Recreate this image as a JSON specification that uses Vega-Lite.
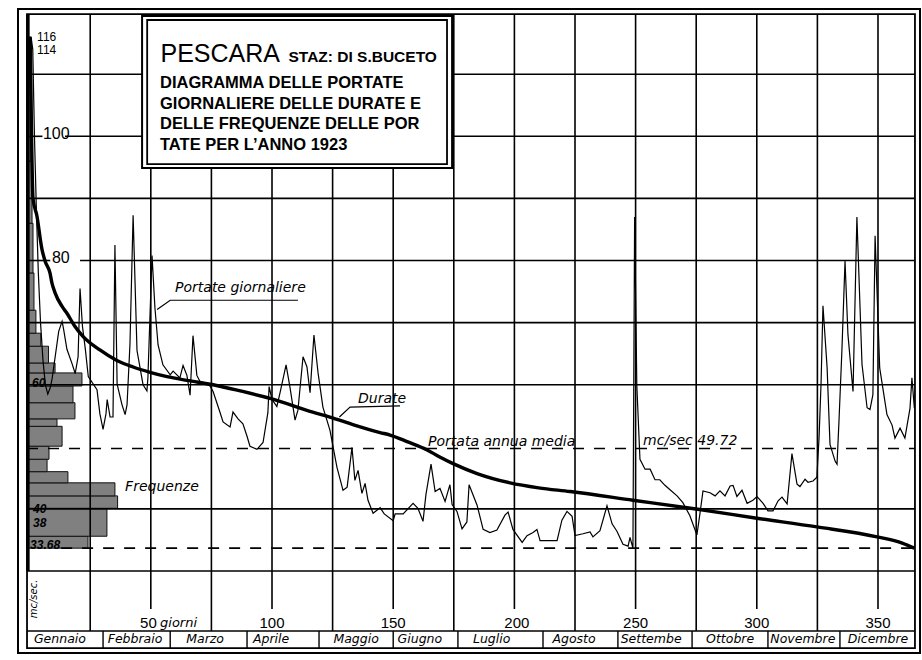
{
"$schema": "https://vega.github.io/schema/vega-lite/v6.json",
"width": 902, "height": 644,
"autosize": {"type": "none"},
"padding": {"left": 18, "top": 9, "right": 2, "bottom": 7},
"background": "white",
"config": {"view": {"stroke": "black", "strokeWidth": 2}},
"datasets": {
"daily": [
{"day":0,"q":112},{"day":0.6,"q":116},{"day":1.3,"q":114},{"day":2,"q":100},{"day":2.8,"q":88},{"day":3.6,"q":78},{"day":4.5,"q":70},{"day":5.5,"q":64},{"day":6.5,"q":60},{"day":7.5,"q":58.5},{"day":8.5,"q":59.5},{"day":9.3,"q":61},
{"day":12,"q":68.6},{"day":13.4,"q":70.2},{"day":14,"q":69},{"day":15.4,"q":65.7},{"day":17.5,"q":63.4},{"day":18.8,"q":61.8},{"day":20,"q":64.5},{"day":20.8,"q":75.5},{"day":21.8,"q":69.4},{"day":23,"q":65.7},{"day":24.2,"q":61.3},{"day":27.8,"q":59.2},{"day":29,"q":55.3},{"day":30.3,"q":52.8},{"day":31.5,"q":55.3},{"day":32,"q":57.6},{"day":33.2,"q":54.8},{"day":34.4,"q":54.8},{"day":35.2,"q":82.5},{"day":36.1,"q":60.1},{"day":38.1,"q":56.8},{"day":39.4,"q":55.2},{"day":40.2,"q":56.8},{"day":41.4,"q":66.5},{"day":42.7,"q":87.3},{"day":44.3,"q":65.5},{"day":46.8,"q":60},{"day":48.4,"q":59},{"day":48.8,"q":61.1},{"day":50.5,"q":80.8},{"day":51.7,"q":72.4},{"day":53,"q":66.4},{"day":55,"q":63.2},{"day":58,"q":61.6},{"day":59.2,"q":62.2},{"day":62,"q":61.1},{"day":63.3,"q":63.1},{"day":64.9,"q":61.5},{"day":66.2,"q":58.3},{"day":67.4,"q":67.9},{"day":69,"q":61.5},{"day":70.3,"q":60.5},
{"day":74.4,"q":59.8},{"day":75.7,"q":58.9},{"day":78.5,"q":55.6},{"day":79.8,"q":54},{"day":82.7,"q":53.2},{"day":83.9,"q":55.6},{"day":86,"q":54.5},{"day":88,"q":53.7},{"day":89.7,"q":51.7},{"day":90.9,"q":50.1},{"day":93.8,"q":49.6},{"day":96.3,"q":50.7},{"day":98.3,"q":55.5},{"day":98.8,"q":59.7},{"day":100,"q":57.6},{"day":102,"q":56.5},{"day":103.3,"q":58.7},{"day":105.8,"q":63.2},{"day":107.4,"q":59.6},{"day":109.5,"q":54.3},{"day":110.7,"q":55.9},{"day":112.8,"q":64.5},{"day":114.4,"q":62.9},{"day":115.7,"q":58.7},{"day":117.3,"q":68},{"day":119,"q":61.9},{"day":121,"q":56.4},{"day":123.9,"q":52.7},{"day":126.8,"q":46.7},{"day":129.3,"q":43},{"day":131,"q":43.5},{"day":133,"q":49.9},{"day":134.2,"q":44.6},{"day":135.5,"q":46.2},{"day":137.1,"q":42.5},{"day":138.4,"q":44.1},{"day":139.6,"q":41.4},{"day":141.7,"q":39.3},{"day":144.6,"q":40.2},{"day":146.3,"q":39.2},{"day":150,"q":38.1},{"day":150.8,"q":39.2},{"day":154.1,"q":39.2},{"day":158.2,"q":40.9},{"day":160.2,"q":40.1},{"day":162.3,"q":38},{"day":163.5,"q":42.3},{"day":165.6,"q":47.2},{"day":167.3,"q":42.8},{"day":169.3,"q":43.3},{"day":171.4,"q":41.2},{"day":173.4,"q":43.9},{"day":174.3,"q":40.7},{"day":176.3,"q":39.6},{"day":178.4,"q":36.8},{"day":180.4,"q":37.9},{"day":181.3,"q":43.9},{"day":184.6,"q":40.6},{"day":187.1,"q":36.7},{"day":189.9,"q":36.2},{"day":192.8,"q":36.6},{"day":196.1,"q":39},{"day":197.4,"q":39.5},{"day":199.4,"q":36.7},{"day":203.2,"q":34.6},{"day":205.2,"q":35.7},{"day":207.7,"q":36.2},{"day":209.3,"q":36.7},{"day":210.6,"q":34.9},{"day":217.6,"q":34.9},{"day":219.6,"q":38.2},{"day":221.7,"q":39.6},{"day":223.8,"q":38.8},{"day":225,"q":35.7},{"day":228.3,"q":36},{"day":231.2,"q":36.3},{"day":232.4,"q":35.5},{"day":235.3,"q":36.5},{"day":238.2,"q":40.5},{"day":240.3,"q":37.6},{"day":242.3,"q":36.4},{"day":244.8,"q":34.3},{"day":246.9,"q":34},{"day":247.7,"q":35.4},{"day":248.9,"q":33.7},
{"day":249.6,"q":87},{"day":250.5,"q":59.9},{"day":251.8,"q":48},{"day":253.9,"q":46.4},{"day":256,"q":46.4},{"day":258,"q":44.7},{"day":260,"q":44.7},{"day":262.1,"q":43.8},{"day":264.2,"q":43.1},{"day":267.1,"q":42.1},{"day":269.5,"q":41},{"day":272.4,"q":38.9},{"day":275.3,"q":35.8},{"day":276.6,"q":39.4},{"day":277.8,"q":42.9},{"day":280.7,"q":42.6},{"day":282.8,"q":42.1},{"day":284.8,"q":42.9},{"day":286.9,"q":42.1},{"day":289,"q":43.7},{"day":290.2,"q":43.8},{"day":291.8,"q":42},{"day":293.9,"q":43},{"day":296,"q":40.9},{"day":298.4,"q":41.4},{"day":300.1,"q":42},{"day":302.6,"q":40.9},{"day":304.6,"q":39.7},{"day":306.7,"q":39.7},{"day":308.8,"q":41.3},{"day":310.4,"q":41.9},{"day":312.5,"q":40.8},{"day":314.5,"q":48.9},{"day":316.6,"q":44},{"day":317.8,"q":43.6},{"day":319.9,"q":44.8},{"day":321.1,"q":44.3},{"day":323.2,"q":44.5},{"day":324.8,"q":45.1},{"day":325.7,"q":51.6},{"day":326.5,"q":60.1},{"day":327.3,"q":72.7},{"day":329,"q":62.8},{"day":330.2,"q":50.4},{"day":332.3,"q":47.7},{"day":333.1,"q":47.2},{"day":333.9,"q":54.1},{"day":335.1,"q":65.4},{"day":336.4,"q":79.9},{"day":337.6,"q":68.1},{"day":339.7,"q":58.9},{"day":341.3,"q":87},{"day":343.4,"q":63.3},{"day":345.5,"q":56.3},{"day":346.7,"q":56},{"day":347.9,"q":58.4},{"day":348.8,"q":84},{"day":350.7,"q":62.7},{"day":353.7,"q":55.2},{"day":355.8,"q":53.5},{"day":357,"q":51.4},{"day":359.1,"q":53},{"day":361.1,"q":51.4},{"day":363.2,"q":56.2},{"day":364,"q":61.1},{"day":365,"q":56.2}
],
"durate": [
{"day":0,"q":116},{"day":0.3,"q":114},{"day":0.8,"q":100},{"day":1.4,"q":90},{"day":3,"q":87.2},{"day":5.1,"q":81.8},{"day":6.4,"q":79.9},{"day":8.4,"q":78},{"day":9.2,"q":76.4},{"day":10.5,"q":74.8},{"day":13.4,"q":72.6},{"day":15.4,"q":71.5},{"day":18.5,"q":69.5},{"day":22,"q":67.8},{"day":29,"q":65.6},{"day":36,"q":63.9},{"day":42.7,"q":62.85},{"day":49.7,"q":62},{"day":56.7,"q":61.3},{"day":64.9,"q":60.7},{"day":75.7,"q":60},{"day":87,"q":59},{"day":99.2,"q":57.8},{"day":116.8,"q":55.6},{"day":123.9,"q":54.8},{"day":134,"q":53.5},{"day":144.6,"q":52.3},{"day":148.7,"q":51.9},{"day":156,"q":50.8},{"day":164,"q":49.5},{"day":169,"q":48.4},{"day":174.7,"q":47.3},{"day":184.6,"q":45.7},{"day":198.2,"q":44.2},{"day":210,"q":43.4},{"day":223,"q":42.8},{"day":248.9,"q":41.4},{"day":276.4,"q":39.9},{"day":300,"q":38.5},{"day":324.8,"q":37.1},{"day":349.6,"q":35.5},{"day":360,"q":34.5},{"day":365,"q":33.68}
],
"freq": [
{"lo":33.68,"hi":35.6,"days":24.1},{"lo":35.6,"hi":40.1,"days":31.9},{"lo":40.1,"hi":42.1,"days":36.3},{"lo":42.1,"hi":44.2,"days":35.2},{"lo":44.2,"hi":46.0,"days":15.8},{"lo":46.0,"hi":48.0,"days":7.2},{"lo":48.0,"hi":50.1,"days":8.0},{"lo":50.1,"hi":53.3,"days":13.4},{"lo":53.3,"hi":54.5,"days":11.3},{"lo":54.5,"hi":57.1,"days":18.7},{"lo":57.1,"hi":59.8,"days":17.9},{"lo":59.8,"hi":61.9,"days":21.6},{"lo":61.9,"hi":63.5,"days":10.5},{"lo":63.5,"hi":66.2,"days":7.8},{"lo":66.2,"hi":68.3,"days":4.6},{"lo":68.3,"hi":72,"days":2.6},{"lo":72,"hi":78,"days":1.8},{"lo":78,"hi":86,"days":1.4},{"lo":86,"hi":96,"days":1.0},{"lo":96,"hi":116,"days":0.6}
],
"hgrid": [
{"q":30,"a":-1.07,"b":365.25},{"q":40,"a":-1.07,"b":365.25},{"q":60,"a":-1.07,"b":365.25},{"q":70,"a":-1.07,"b":365.25},{"q":90,"a":-1.07,"b":365.25},{"q":110,"a":-1.07,"b":365.25},{"q":100,"a":-1.07,"b":5.3},{"q":100,"a":14.6,"b":365.25},{"q":80,"a":-1.07,"b":8.5},{"q":80,"a":20.8,"b":365.25},{"q":20.34,"a":-1.07,"b":365.25}
],
"months": [
{"name":"Gennaio","start":0,"mid":12.5},{"name":"Febbraio","start":30.3,"mid":43.5},{"name":"Marzo","start":58,"mid":72.4},{"name":"Aprile","start":89.7,"mid":99.6},{"name":"Maggio","start":119.4,"mid":134.7},{"name":"Giugno","start":150,"mid":161},{"name":"Luglio","start":176.7,"mid":190.6},{"name":"Agosto","start":211.8,"mid":224.6},{"name":"Settembe","start":242.7,"mid":256.4},{"name":"Ottobre","start":273.3,"mid":289},{"name":"Novembre","start":304.6,"mid":319},{"name":"Dicembre","start":334.3,"mid":350}
],
"leaders": [
{"g":"p","day":52.6,"q":72.1,"o":1},{"g":"p","day":58,"q":73.6,"o":2},{"g":"p","day":110.7,"q":73.6,"o":3},
{"g":"d","day":127.8,"q":54.8,"o":1},{"g":"d","day":132.2,"q":56.4,"o":2},{"g":"d","day":152.8,"q":56.6,"o":3}
]
},
"layer": [
{"data":{"name":"freq"},"mark":{"type":"rect","fill":"#808080","stroke":"#111","strokeWidth":1},
 "encoding":{"x":{"datum":-1.07,"type":"quantitative","scale":{"domain":[-4.79,367.33],"nice":false,"zero":false},"axis":null},"x2":{"field":"days","type":"quantitative"},
 "y":{"field":"lo","type":"quantitative","scale":{"domain":[16.8,120.5],"nice":false,"zero":false},"axis":null},"y2":{"field":"hi","type":"quantitative"}}},
{"data":{"name":"hgrid"},"mark":{"type":"rule","stroke":"black","strokeWidth":1.6},
 "encoding":{"x":{"field":"a","type":"quantitative","scale":{"domain":[-4.79,367.33],"nice":false,"zero":false},"axis":null},"x2":{"field":"b","type":"quantitative"},
 "y":{"field":"q","type":"quantitative","scale":{"domain":[16.8,120.5],"nice":false,"zero":false},"axis":null}}},
{"data":{"values":[{"d":25},{"d":75},{"d":125},{"d":175},{"d":225},{"d":275},{"d":325}]},"mark":{"type":"rule","stroke":"black","strokeWidth":1.6},
 "encoding":{"x":{"field":"d","type":"quantitative","scale":{"domain":[-4.79,367.33],"nice":false,"zero":false},"axis":null},
 "y":{"datum":119.69,"type":"quantitative","scale":{"domain":[16.8,120.5],"nice":false,"zero":false},"axis":null},"y2":{"datum":20.34,"type":"quantitative"}}},
{"data":{"values":[{"d":50},{"d":100},{"d":150},{"d":200},{"d":250},{"d":300},{"d":350}]},"mark":{"type":"rule","stroke":"black","strokeWidth":1.6},
 "encoding":{"x":{"field":"d","type":"quantitative","scale":{"domain":[-4.79,367.33],"nice":false,"zero":false},"axis":null},
 "y":{"datum":119.69,"type":"quantitative","scale":{"domain":[16.8,120.5],"nice":false,"zero":false},"axis":null},"y2":{"datum":23.88,"type":"quantitative"}}},
{"data":{"name":"months"},"transform":[{"filter":"datum.start > 0"}],"mark":{"type":"rule","stroke":"black","strokeWidth":1.4},
 "encoding":{"x":{"field":"start","type":"quantitative","scale":{"domain":[-4.79,367.33],"nice":false,"zero":false},"axis":null},
 "y":{"datum":20.34,"type":"quantitative","scale":{"domain":[16.8,120.5],"nice":false,"zero":false},"axis":null},"y2":{"datum":17.6,"type":"quantitative"}}},
{"data":{"name":"months"},"mark":{"type":"text","font":"DejaVu Sans","fontStyle":"italic","fontSize":12.5,"align":"center","baseline":"middle","color":"black"},
 "encoding":{"x":{"field":"mid","type":"quantitative","scale":{"domain":[-4.79,367.33],"nice":false,"zero":false},"axis":null},
 "y":{"datum":19.0,"type":"quantitative","scale":{"domain":[16.8,120.5],"nice":false,"zero":false},"axis":null},"text":{"field":"name","type":"nominal"}}},
{"data":{"values":[{"d":49,"t":"50"},{"d":100,"t":"100"},{"d":150,"t":"150"},{"d":201,"t":"200"},{"d":250,"t":"250"},{"d":300,"t":"300"},{"d":350,"t":"350"}]},
 "mark":{"type":"text","font":"Liberation Sans","fontSize":15,"align":"center","baseline":"middle","color":"black"},
 "encoding":{"x":{"field":"d","type":"quantitative","scale":{"domain":[-4.79,367.33],"nice":false,"zero":false},"axis":null},
 "y":{"datum":21.63,"type":"quantitative","scale":{"domain":[16.8,120.5],"nice":false,"zero":false},"axis":null},"text":{"field":"t","type":"nominal"}}},
{"data":{"values":[{"t":"giorni"}]},"mark":{"type":"text","font":"DejaVu Sans","fontStyle":"italic","fontSize":13,"align":"left","baseline":"middle","color":"black"},
 "encoding":{"x":{"datum":53.8,"type":"quantitative","scale":{"domain":[-4.79,367.33],"nice":false,"zero":false},"axis":null},
 "y":{"datum":21.63,"type":"quantitative","scale":{"domain":[16.8,120.5],"nice":false,"zero":false},"axis":null},"text":{"field":"t","type":"nominal"}}},
{"data":{"values":[{"t":"mc/sec."}]},"mark":{"type":"text","font":"DejaVu Sans","fontStyle":"italic","fontSize":10,"angle":270,"align":"center","baseline":"middle","color":"black"},
 "encoding":{"x":{"datum":1.8,"type":"quantitative","scale":{"domain":[-4.79,367.33],"nice":false,"zero":false},"axis":null},
 "y":{"datum":25.5,"type":"quantitative","scale":{"domain":[16.8,120.5],"nice":false,"zero":false},"axis":null},"text":{"field":"t","type":"nominal"}}},
{"data":{"values":[{"q":49.72,"a":-1.07},{"q":33.68,"a":13}]},"mark":{"type":"rule","stroke":"black","strokeWidth":1.6,"strokeDash":[11,10]},
 "encoding":{"x":{"field":"a","type":"quantitative","scale":{"domain":[-4.79,367.33],"nice":false,"zero":false},"axis":null},"x2":{"datum":365.25,"type":"quantitative"},
 "y":{"field":"q","type":"quantitative","scale":{"domain":[16.8,120.5],"nice":false,"zero":false},"axis":null}}},
{"data":{"name":"daily"},"mark":{"type":"line","stroke":"black","strokeWidth":1.2},
 "encoding":{"x":{"field":"day","type":"quantitative","scale":{"domain":[-4.79,367.33],"nice":false,"zero":false},"axis":null},
 "y":{"field":"q","type":"quantitative","scale":{"domain":[16.8,120.5],"nice":false,"zero":false},"axis":null}}},
{"data":{"name":"durate"},"mark":{"type":"line","stroke":"black","strokeWidth":3.4,"interpolate":"monotone"},
 "encoding":{"x":{"field":"day","type":"quantitative","scale":{"domain":[-4.79,367.33],"nice":false,"zero":false},"axis":null},
 "y":{"field":"q","type":"quantitative","scale":{"domain":[16.8,120.5],"nice":false,"zero":false},"axis":null}}},
{"data":{"name":"leaders"},"mark":{"type":"line","stroke":"black","strokeWidth":1.2},
 "encoding":{"x":{"field":"day","type":"quantitative","scale":{"domain":[-4.79,367.33],"nice":false,"zero":false},"axis":null},
 "y":{"field":"q","type":"quantitative","scale":{"domain":[16.8,120.5],"nice":false,"zero":false},"axis":null},"detail":{"field":"g","type":"nominal"},"order":{"field":"o","type":"quantitative"}}},
{"data":{"values":[{"t":"Portate giornaliere","d":60,"q":74.9},{"t":"Durate","d":135.5,"q":57.1},{"t":"Portata annua media","d":164.4,"q":50.2},{"t":"mc/sec 49.72","d":253.1,"q":50.3},{"t":"Frequenze","d":39.4,"q":42.9}]},
 "mark":{"type":"text","font":"DejaVu Sans","fontStyle":"italic","fontSize":14,"align":"left","baseline":"alphabetic","color":"black"},
 "encoding":{"x":{"field":"d","type":"quantitative","scale":{"domain":[-4.79,367.33],"nice":false,"zero":false},"axis":null},
 "y":{"field":"q","type":"quantitative","scale":{"domain":[16.8,120.5],"nice":false,"zero":false},"axis":null},"text":{"field":"t","type":"nominal"}}},
{"data":{"values":[{"t":"116","d":3.1,"q":116},{"t":"114","d":3.1,"q":113.9}]},
 "mark":{"type":"text","font":"Liberation Sans","fontSize":12,"align":"left","baseline":"middle","color":"black"},
 "encoding":{"x":{"field":"d","type":"quantitative","scale":{"domain":[-4.79,367.33],"nice":false,"zero":false},"axis":null},
 "y":{"field":"q","type":"quantitative","scale":{"domain":[16.8,120.5],"nice":false,"zero":false},"axis":null},"text":{"field":"t","type":"nominal"}}},
{"data":{"values":[{"t":"100","d":5.5,"q":100.3},{"t":"80","d":9.2,"q":80.4}]},
 "mark":{"type":"text","font":"Liberation Sans","fontSize":16,"align":"left","baseline":"middle","color":"black"},
 "encoding":{"x":{"field":"d","type":"quantitative","scale":{"domain":[-4.79,367.33],"nice":false,"zero":false},"axis":null},
 "y":{"field":"q","type":"quantitative","scale":{"domain":[16.8,120.5],"nice":false,"zero":false},"axis":null},"text":{"field":"t","type":"nominal"}}},
{"data":{"values":[{"t":"60","d":1.0,"q":60.3},{"t":"40","d":1.4,"q":40},{"t":"38","d":1.4,"q":37.7},{"t":"33.68","d":0.2,"q":34.2}]},
 "mark":{"type":"text","font":"Liberation Sans","fontStyle":"italic","fontWeight":"bold","fontSize":12,"align":"left","baseline":"middle","color":"black"},
 "encoding":{"x":{"field":"d","type":"quantitative","scale":{"domain":[-4.79,367.33],"nice":false,"zero":false},"axis":null},
 "y":{"field":"q","type":"quantitative","scale":{"domain":[16.8,120.5],"nice":false,"zero":false},"axis":null},"text":{"field":"t","type":"nominal"}}},
{"data":{"values":[{"a":46.4,"b":174.3,"c":119.37,"e":94.89}]},"mark":{"type":"rect","fill":"white","stroke":"black","strokeWidth":2},
 "encoding":{"x":{"field":"a","type":"quantitative","scale":{"domain":[-4.79,367.33],"nice":false,"zero":false},"axis":null},"x2":{"field":"b","type":"quantitative"},
 "y":{"field":"c","type":"quantitative","scale":{"domain":[16.8,120.5],"nice":false,"zero":false},"axis":null},"y2":{"field":"e","type":"quantitative"}}},
{"data":{"values":[{"a":48.5,"b":172.2,"c":118.73,"e":95.53},{"a":-1.07,"b":365.25,"c":119.69,"e":17.6}]},"mark":{"type":"rect","filled":false,"stroke":"black","strokeWidth":1.8},
 "encoding":{"x":{"field":"a","type":"quantitative","scale":{"domain":[-4.79,367.33],"nice":false,"zero":false},"axis":null},"x2":{"field":"b","type":"quantitative"},
 "y":{"field":"c","type":"quantitative","scale":{"domain":[16.8,120.5],"nice":false,"zero":false},"axis":null},"y2":{"field":"e","type":"quantitative"}}},
{"data":{"values":[{"t":"PESCARA","d":54.0,"q":112.0}]},"mark":{"type":"text","font":"Liberation Sans","fontSize":25,"align":"left","baseline":"alphabetic","color":"black"},
 "encoding":{"x":{"field":"d","type":"quantitative","scale":{"domain":[-4.79,367.33],"nice":false,"zero":false},"axis":null},
 "y":{"field":"q","type":"quantitative","scale":{"domain":[16.8,120.5],"nice":false,"zero":false},"axis":null},"text":{"field":"t","type":"nominal"}}},
{"data":{"values":[{"t":"STAZ: DI S.BUCETO"}]},"mark":{"type":"text","font":"Liberation Sans","fontWeight":"bold","fontSize":15.5,"align":"left","baseline":"alphabetic","color":"black"},
 "encoding":{"x":{"datum":106.8,"type":"quantitative","scale":{"domain":[-4.79,367.33],"nice":false,"zero":false},"axis":null},
 "y":{"datum":112.0,"type":"quantitative","scale":{"domain":[16.8,120.5],"nice":false,"zero":false},"axis":null},"text":{"field":"t","type":"nominal"}}},
{"data":{"values":[{"t":"DIAGRAMMA DELLE PORTATE","d":53.8,"q":107.75},{"t":"GIORNALIERE DELLE DURATE E","d":53.8,"q":104.45},{"t":"DELLE FREQUENZE DELLE POR","d":53.8,"q":101.15},{"t":"TATE PER L’ANNO 1923","d":53.8,"q":97.85}]},
 "mark":{"type":"text","font":"Liberation Sans","fontWeight":"bold","fontSize":16.5,"align":"left","baseline":"alphabetic","color":"black"},
 "encoding":{"x":{"field":"d","type":"quantitative","scale":{"domain":[-4.79,367.33],"nice":false,"zero":false},"axis":null},
 "y":{"field":"q","type":"quantitative","scale":{"domain":[16.8,120.5],"nice":false,"zero":false},"axis":null},"text":{"field":"t","type":"nominal"}}},
{"data":{"values":[{"d":-0.7,"a":119.69,"b":30}]},"mark":{"type":"rule","stroke":"black","strokeWidth":3.5},
 "encoding":{"x":{"field":"d","type":"quantitative","scale":{"domain":[-4.79,367.33],"nice":false,"zero":false},"axis":null},
 "y":{"field":"a","type":"quantitative","scale":{"domain":[16.8,120.5],"nice":false,"zero":false},"axis":null},"y2":{"field":"b","type":"quantitative"}}}
]
}
